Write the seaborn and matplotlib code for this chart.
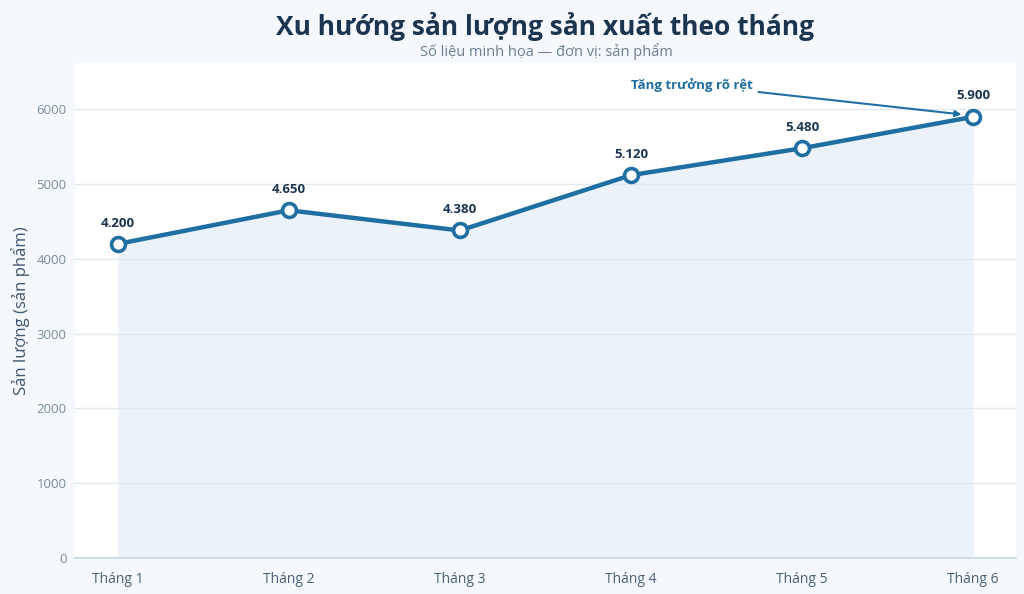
import pandas as pd
import seaborn as sns
import matplotlib.pyplot as plt

months = ['Tháng 1', 'Tháng 2', 'Tháng 3', 'Tháng 4', 'Tháng 5', 'Tháng 6']
output = [4200, 4650, 4380, 5120, 5480, 5900]
y_ticks = [0, 1000, 2000, 3000, 4000, 5000, 6000]

df = pd.DataFrame({'month': months, 'output': output})
df['pos'] = range(len(df))

sns.set_theme(style="white")
plt.rcParams['font.family'] = ['Open Sans', 'Noto Sans', 'DejaVu Sans']

line_color = '#1f6fa3'
fig = plt.figure(figsize=(10.24, 5.94), dpi=100, facecolor='#f5f8fc')
ax = fig.add_axes([0.0732, 0.0606, 0.919, 0.8334])
ax.set_facecolor('white')

ax.fill_between(df['pos'], df['output'], 0, color='#dce8f5', alpha=0.55, zorder=1, linewidth=0)
sns.lineplot(data=df, x='pos', y='output', ax=ax, color=line_color, linewidth=3.2,
             marker='o', markersize=10, markerfacecolor='white',
             markeredgecolor=line_color, markeredgewidth=2.6, zorder=3)

for x, y in zip(df['pos'], df['output']):
    label = f'{y:,}'.replace(',', '.')
    ax.annotate(label, (x, y), xytext=(0, 15), textcoords='offset points',
                ha='center', va='center', fontsize=9.5, fontweight='bold', color='#1b3550')

ax.annotate('Tăng trưởng rõ rệt', xy=(df['pos'].iloc[-1] - 0.02, df['output'].iloc[-1] + 20),
            xytext=(3.71, 6330), textcoords='data', ha='right', va='center',
            fontsize=9.5, fontweight='bold', color=line_color,
            arrowprops=dict(arrowstyle='-|>', color=line_color, lw=1.5,
                            mutation_scale=9, shrinkA=2, shrinkB=6))

ax.set_xlim(-0.25, 5.25)
ax.set_ylim(0, 6620)
ax.set_xticks(df['pos'])
ax.set_xticklabels(months)
ax.set_yticks(y_ticks)
ax.yaxis.grid(True, color='#e1e8f0', linewidth=1)
ax.set_axisbelow(True)
ax.tick_params(axis='x', colors='#4a6178', labelsize=10, length=0, pad=10)
ax.tick_params(axis='y', colors='#7a8ca0', labelsize=9.5, length=0, pad=6)
for side in ['top', 'right', 'left']:
    ax.spines[side].set_visible(False)
ax.spines['bottom'].set_color('#c9d6e3')
ax.spines['bottom'].set_linewidth(1.2)

ax.set_xlabel('')
ax.set_ylabel('Sản lượng (sản phẩm)', fontsize=12, color='#3d5570', labelpad=5)

fig.text(0.532, 0.955, 'Xu hướng sản lượng sản xuất theo tháng', ha='center', va='center',
         fontsize=19, fontweight='bold', color='#1b3550')
fig.text(0.534, 0.914, 'Số liệu minh họa — đơn vị: sản phẩm', ha='center', va='center',
         fontsize=10.5, color='#6b7f94')

plt.savefig('out.png', dpi=100, facecolor=fig.get_facecolor())
